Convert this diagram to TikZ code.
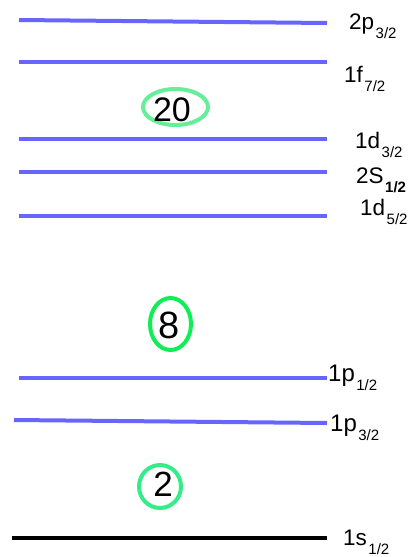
\documentclass[tikz,border=0pt]{standalone}
\usepackage{fontspec}
\setmainfont{Liberation Sans}
\definecolor{lvl}{HTML}{6666FF}
\definecolor{gA}{HTML}{66EE99}
\definecolor{gB}{HTML}{11EE55}
\definecolor{gC}{HTML}{33EE88}
\newcommand\lsub[1]{\kern1.5pt\raisebox{-9pt}{\fontsize{15}{15}\selectfont #1}}
\newcommand\lsubb[1]{\kern1.5pt\raisebox{-9pt}{\fontsize{15}{15}\selectfont\bfseries #1}}
\tikzset{
  level/.style={draw=lvl,line width=4pt},
  ground/.style={draw=black,line width=4pt},
  lab/.style={anchor=base west,inner sep=0pt,font=\fontsize{22.5}{22.5}\selectfont},
  ring/.style={draw=#1,line width=4pt},
  magic/.style={inner sep=0pt},
}
\begin{document}
\begin{tikzpicture}[x=1pt,y=-1pt]
\useasboundingbox (0,0) rectangle (413,557);
% levels
\draw[level] (19,20) -- (327,23);
\draw[level] (19,62) -- (327,62);
\draw[level] (19,139) -- (327,139);
\draw[level] (19,172) -- (327,172);
\draw[level] (19,216) -- (327,216);
\draw[level] (19,378) -- (327,378);
\draw[level] (14,420) -- (327,423);
\draw[ground] (12,538) -- (327,538);
% labels
\node[lab] (l1) at (349,29) {2p\lsub{3/2}};
\node[lab] (l2) at (344,82) {1f\lsub{7/2}};
\node[lab] (l3) at (355,148) {1d\lsub{3/2}};
\node[lab] (l4) at (356,183) {2S\lsubb{1/2}};
\node[lab] (l5) at (360,215) {1d\lsub{5/2}};
\node[lab,font=\fontsize{24}{24}\selectfont] (l6) at (328,381) {1p\lsub{1/2}};
\node[lab,font=\fontsize{24}{24}\selectfont] (l7) at (330,431) {1p\lsub{3/2}};
\node[lab] (l8) at (343,545) {1s\lsub{1/2}};
% magic numbers
\coordinate (c20) at (175.5,107);
\coordinate (c8) at (170.5,324);
\coordinate (c2) at (160,486.5);
\draw[ring=gA] (c20) ellipse (32.5 and 18);
\draw[ring=gB] (c8) ellipse (20.5 and 26);
\draw[ring=gC] (c2) ellipse (21 and 21.5);
\node[magic,font=\fontsize{34}{34}\selectfont] (m20) at (172,109.5) {20};
\node[magic,font=\fontsize{38}{38}\selectfont] (m8) at (169.5,325.5) {8};
\node[magic,font=\fontsize{35}{35}\selectfont] (m2) at (163,484.5) {2};
\end{tikzpicture}
\end{document}
